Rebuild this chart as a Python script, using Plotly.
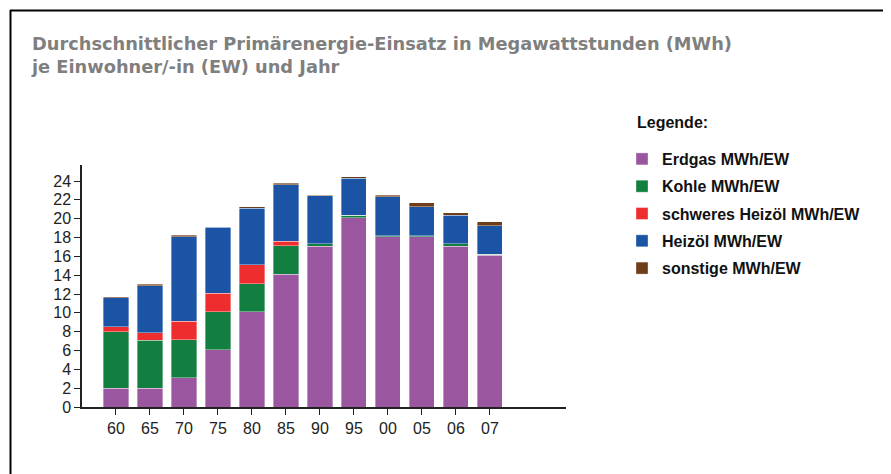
import plotly.graph_objects as go

years = ["60", "65", "70", "75", "80", "85", "90", "95", "00", "05", "06", "07"]
erdgas = [2.0, 2.0, 3.1, 6.1, 10.1, 14.1, 17.05, 20.1, 18.1, 18.1, 17.05, 16.1]
kohle = [6.0, 5.1, 4.05, 4.0, 3.0, 3.0, 0.3, 0.25, 0.1, 0.1, 0.3, 0.1]
schweres_heizoel = [0.5, 0.8, 1.95, 2.0, 2.0, 0.5, 0.0, 0.0, 0.0, 0.0, 0.0, 0.0]
heizoel = [3.1, 5.0, 9.0, 7.0, 6.0, 6.0, 5.1, 3.95, 4.15, 3.05, 3.0, 3.05]
sonstige = [0.1, 0.12, 0.15, 0.05, 0.15, 0.15, 0.03, 0.15, 0.15, 0.45, 0.3, 0.45]

series = [
    ("Erdgas MWh/EW", erdgas, "#9a569f"),
    ("Kohle MWh/EW", kohle, "#127e3f"),
    ("schweres Heizöl MWh/EW", schweres_heizoel, "#ee2e2e"),
    ("Heizöl MWh/EW", heizoel, "#1b54a4"),
    ("sonstige MWh/EW", sonstige, "#6f3d18"),
]

# the page body has an 8px default margin; figure coordinates are shifted accordingly
W, H = 891, 474
ML, MR, MT, MB = 74, 333, 157, 75
PW, PH = W - ML - MR, H - MT - MB


def px_x(v):
    return (v - ML) / PW


def px_y(v):
    return 1 - (v - MT) / PH


fig = go.Figure()
for i, (name, vals, col) in enumerate(series):
    fig.add_trace(go.Bar(
        x=list(range(len(years))), y=vals, name=name,
        marker=dict(color=col, line=dict(color="rgba(255,255,255,0.6)", width=0.6)),
        width=0.74, legendgroup=f"g{i}",
    ))

tick_font = dict(family="Liberation Sans Narrow, Arial Narrow, Liberation Sans, sans-serif", size=16, color="#222222")
leg_font_family = "Liberation Sans, Arial, sans-serif"

fig.update_layout(
    width=W, height=H,
    barmode="stack",
    plot_bgcolor="white", paper_bgcolor="white",
    margin=dict(l=ML, r=MR, t=MT, b=MB, autoexpand=False),
    title=dict(
        text="Durchschnittlicher Primärenergie-Einsatz in Megawattstunden (MWh)<br>je Einwohner/-in (EW) und Jahr",
        x=24 / W, xanchor="left", xref="container",
        y=1 - 42 / H, yanchor="top", yref="container",
        font=dict(family="DejaVu Sans, sans-serif", size=17.8, color="#7f7f7f", weight="bold"),
    ),
    xaxis=dict(
        range=[-1, 13.24], tickmode="array", tickvals=list(range(len(years))), ticktext=years,
        showgrid=False, zeroline=False, showline=True, linecolor="#222222", linewidth=1.5,
        ticks="outside", ticklen=6, tickcolor="#222222", tickwidth=1.2, tickfont=tick_font,
    ),
    yaxis=dict(
        range=[0, 25.7], tickmode="linear", tick0=0, dtick=2,
        showgrid=False, zeroline=False, showline=True, linecolor="#222222", linewidth=1.5,
        ticks="outside", ticklen=6, tickcolor="#222222", tickwidth=1.2, tickfont=tick_font,
    ),
    legend=dict(
        x=px_x(614), xanchor="left",
        y=px_y(134), yanchor="top",
        traceorder="grouped", tracegroupgap=3.5,
        font=dict(family=leg_font_family, size=16, color="#111111", weight="bold"),
        bgcolor="rgba(0,0,0,0)",
    ),
    showlegend=True,
    annotations=[
        dict(text="Legende:", xref="paper", yref="paper", x=px_x(627), y=px_y(114),
             xanchor="left", yanchor="middle", showarrow=False,
             font=dict(family=leg_font_family, size=16, color="#111111", weight="bold")),
    ],
    shapes=[
        dict(type="line", xref="paper", yref="paper",
             x0=px_x(2), x1=px_x(W + 5), y0=px_y(2.5), y1=px_y(2.5),
             line=dict(color="#000000", width=2)),
        dict(type="line", xref="paper", yref="paper",
             x0=px_x(2.5), x1=px_x(2.5), y0=px_y(2), y1=px_y(H + 5),
             line=dict(color="#000000", width=2)),
    ],
)

fig.write_html("out.html")
